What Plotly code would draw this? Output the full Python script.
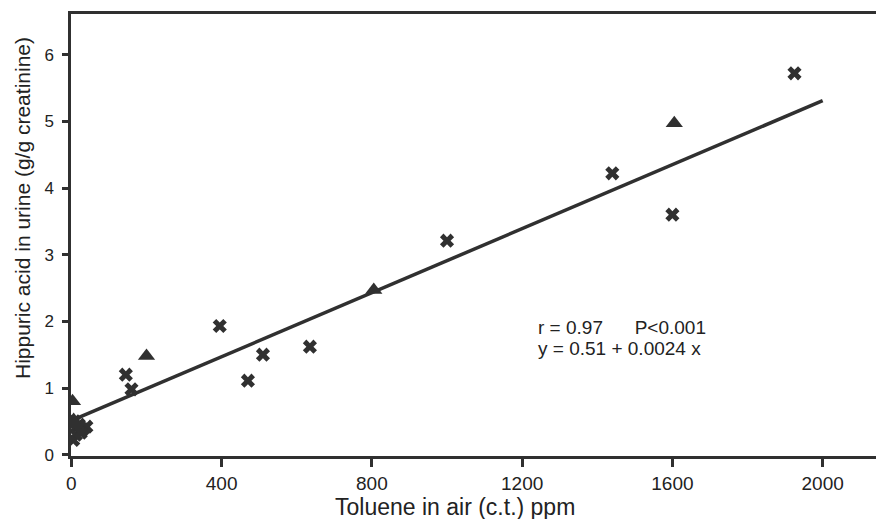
import plotly.graph_objects as go

# Crosses (x markers)
cross_x = [1925, 1440, 1600, 1000, 395, 635, 510, 470, 145, 160, 5, 12, 20, 30, 8, 40, 25]
cross_y = [5.72, 4.22, 3.60, 3.21, 1.93, 1.62, 1.50, 1.11, 1.20, 0.98, 0.22, 0.30, 0.45, 0.38, 0.50, 0.42, 0.33]

# Triangles
tri_x = [1605, 805, 200, 3, 12, 6]
tri_y = [4.97, 2.47, 1.48, 0.80, 0.45, 0.52]

# Regression line y = 0.51 + 0.0024 x
fit_x = [20, 2000]
fit_intercept = 0.51
fit_slope = 0.0024
fit_y = [fit_intercept + fit_slope * v for v in fit_x]

x_ticks = [0, 400, 800, 1200, 1600, 2000]
y_ticks = [0, 1, 2, 3, 4, 5, 6]

ink = "#303030"
txt = "#222222"

fig = go.Figure()
fig.add_trace(go.Scatter(x=fit_x, y=fit_y, mode="lines",
                         line=dict(color=ink, width=3.5), showlegend=False))
fig.add_trace(go.Scatter(x=cross_x, y=cross_y, mode="markers",
                         marker=dict(symbol="x", size=12.5, color=ink,
                                     line=dict(width=0)), showlegend=False))
fig.add_trace(go.Scatter(x=tri_x, y=tri_y, mode="markers",
                         marker=dict(symbol="triangle-up", size=15, color=ink,
                                     line=dict(width=0)), showlegend=False))

fig.update_layout(
    width=876, height=519,
    margin=dict(l=71, r=0, t=14, b=63),
    paper_bgcolor="white", plot_bgcolor="white",
    font=dict(family="Liberation Sans, Arial, sans-serif", color=txt),
    xaxis=dict(range=[-1, 2142], tickvals=x_ticks, ticktext=[str(v) for v in x_ticks],
               showgrid=False, zeroline=False, showline=True, linecolor=ink, linewidth=2.5,
               mirror=True, ticks="outside", ticklen=8, tickwidth=2.5, tickcolor=ink,
               ticklabelstandoff=0,
               tickfont=dict(size=19, color=txt)),
    yaxis=dict(range=[-0.02, 6.61], tickvals=y_ticks, ticktext=[str(v) for v in y_ticks],
               showgrid=False, zeroline=False, showline=True, linecolor=ink, linewidth=2.5,
               ticks="outside", ticklen=6, tickwidth=2.5, tickcolor=ink,
               ticklabelstandoff=5,
               tickfont=dict(size=17, color=txt)),
    annotations=[
        dict(text="Toluene in air (c.t.) ppm", xref="paper", yref="paper",
             x=(455 - 71) / 805, y=-(507 - 456) / 442, xanchor="center", yanchor="middle",
             showarrow=False, font=dict(size=23, color=txt)),
        dict(text="Hippuric acid in urine (g/g creatinine)", xref="paper", yref="paper",
             x=(22 - 71) / 805, y=(456 - 208) / 442, xanchor="center", yanchor="middle",
             textangle=-90, showarrow=False, font=dict(size=21, color=txt)),
        dict(text="r = 0.97&nbsp;&nbsp;&nbsp;&nbsp;&nbsp;&nbsp;P<0.001",
             xref="x", yref="y", x=1237, y=1.91, xanchor="left", yanchor="middle",
             showarrow=False, font=dict(size=19, color=txt)),
        dict(text="y = 0.51 + 0.0024 x",
             xref="x", yref="y", x=1237, y=1.59, xanchor="left", yanchor="middle",
             showarrow=False, font=dict(size=19, color=txt)),
    ],
)

fig.write_html("out.html", config={"displayModeBar": False},
               post_script="document.body.style.margin='0';")
